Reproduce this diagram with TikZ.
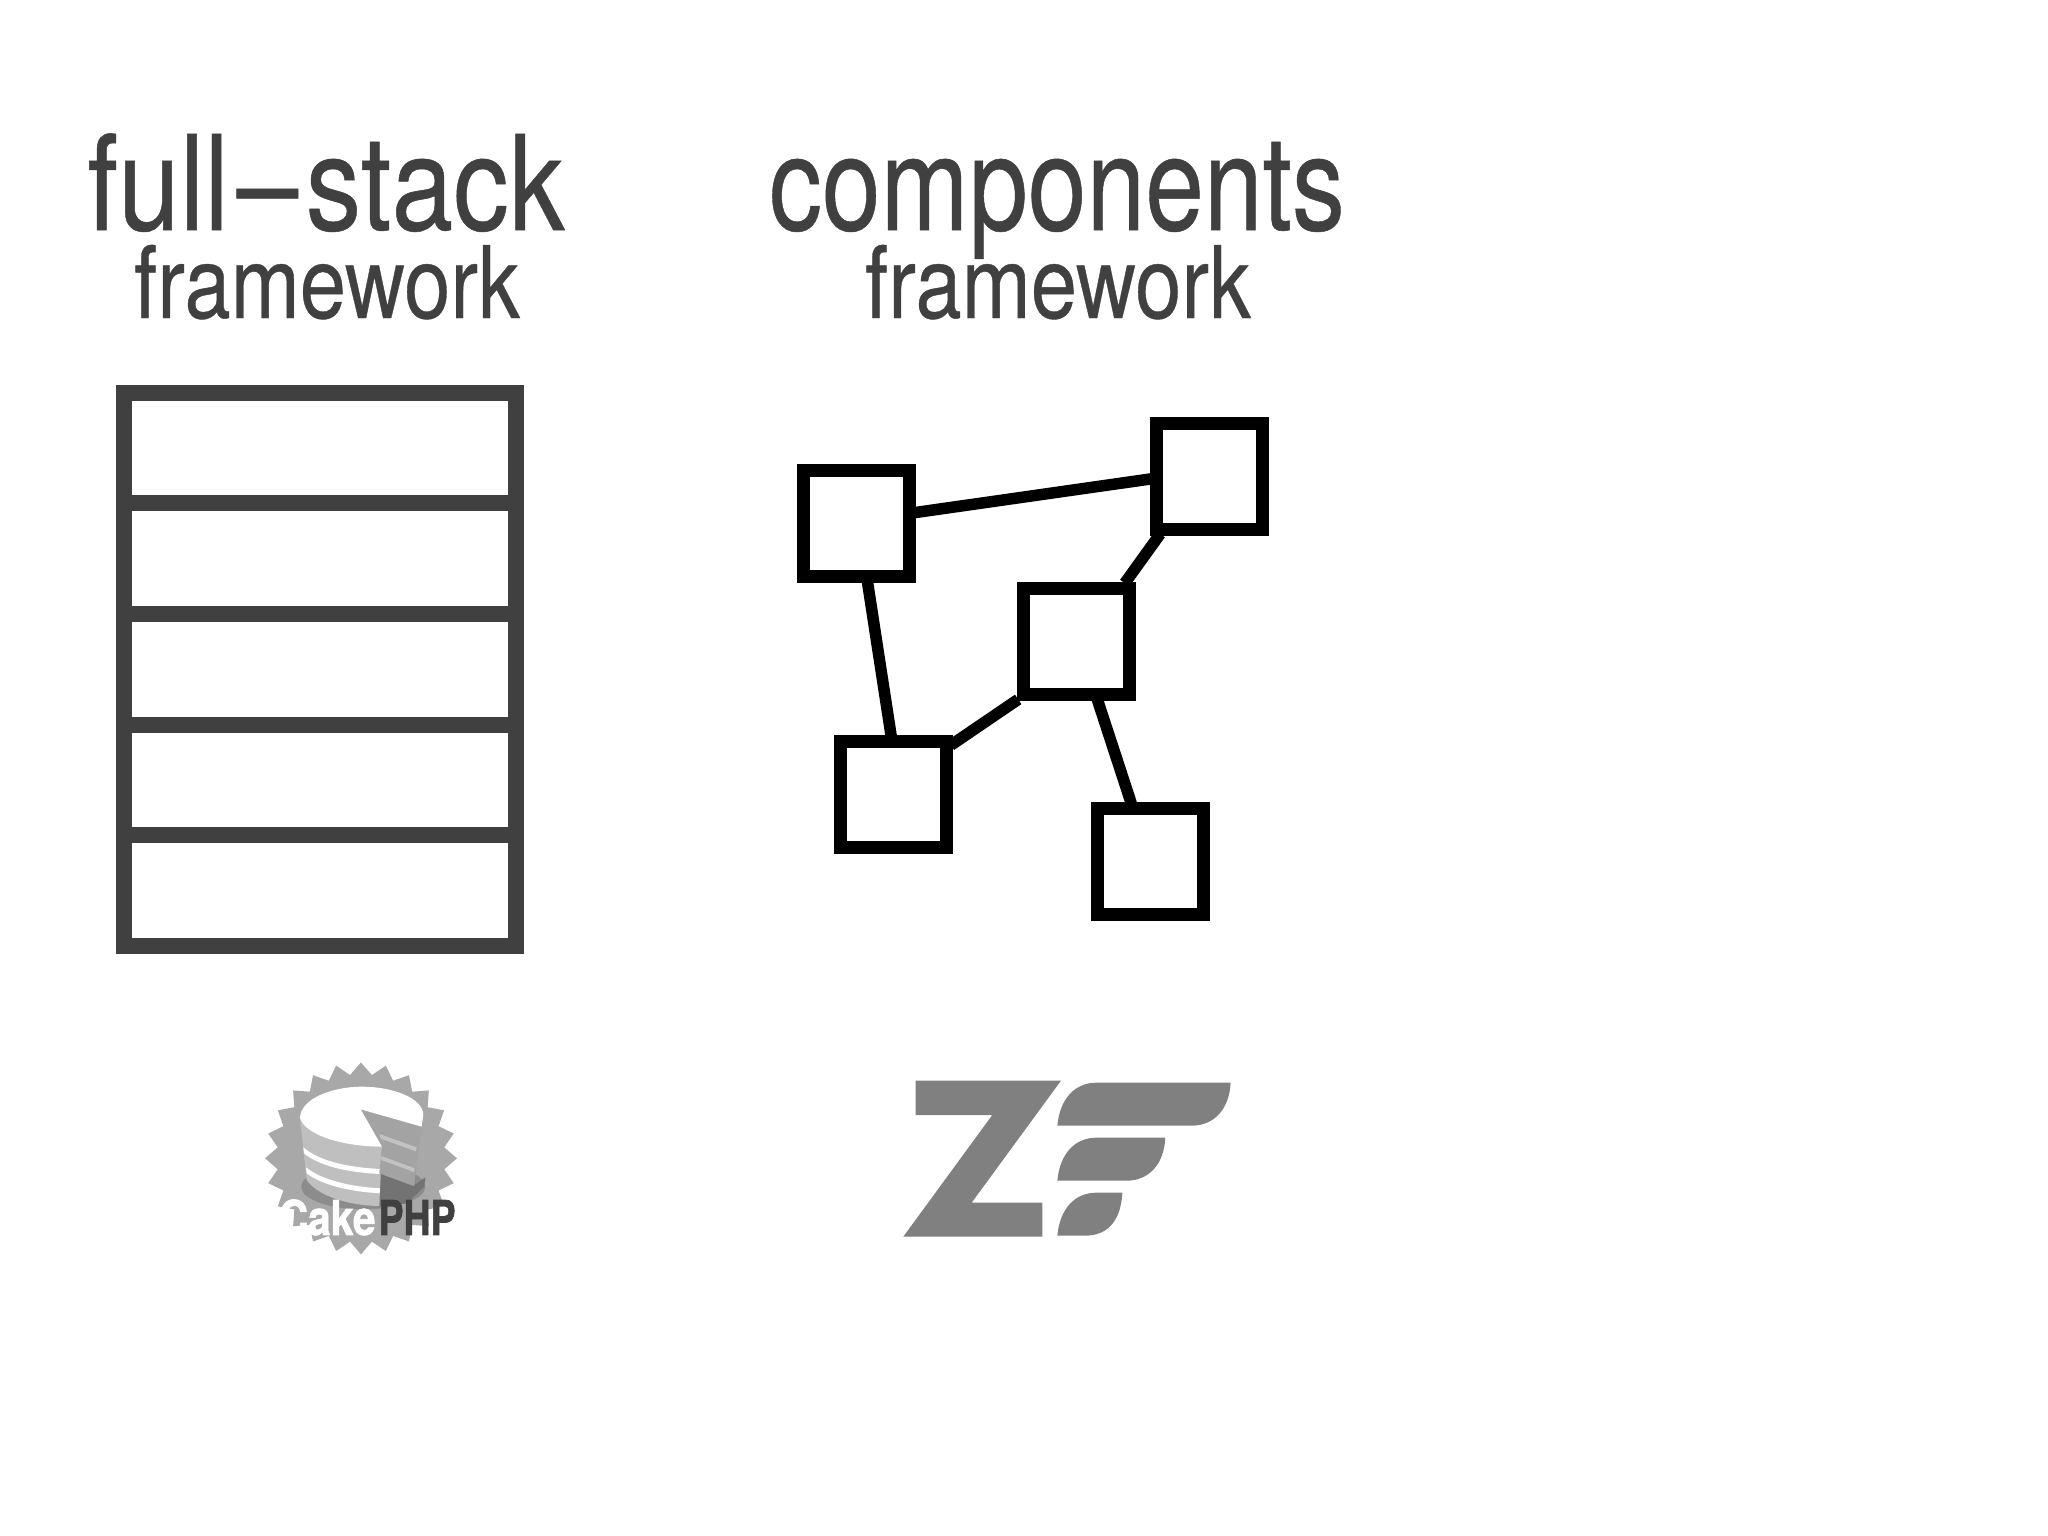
\documentclass[tikz,border=0pt]{standalone}
\usepackage{fontspec}
\setmainfont{TeX Gyre Heros}
\newfontfamily\heavyfont[FakeBold=0.4]{TeX Gyre Heros}
\newfontfamily\cakefont[BoldFeatures={FakeBold=1.5}]{TeX Gyre Heros}
\definecolor{inkgray}{HTML}{404040}
\definecolor{zfgray}{HTML}{808080}
\definecolor{stargray}{HTML}{A8A8A8}
\tikzset{every picture/.style={line width=0.75pt}}
\tikzset{
	bigtitle/.style={anchor=base,text=inkgray,inner sep=0pt,font=\heavyfont\fontsize{132}{132}\selectfont},
	smalltitle/.style={anchor=base,text=inkgray,inner sep=0pt,font=\heavyfont\fontsize{100}{100}\selectfont},
	stackcell/.style={draw=inkgray,line width=16pt,minimum width=392pt,minimum height=110.6pt,inner sep=0pt},
	compbox/.style={draw=black,line width=13pt,minimum size=106pt,inner sep=0pt},
	complink/.style={draw=black,line width=11.5pt,shorten >=-2pt,shorten <=-2pt},
	cakeword/.style={anchor=base west,inner sep=0pt,font=\cakefont\bfseries\fontsize{48}{48}\selectfont}
}
\begin{document}
\begin{tikzpicture}[x=1pt,y=-1pt]
	\fill[white] (0,0) rectangle (2048,1536);
	\node[bigtitle,xscale=.84] (fullstack) at (326,230) {full\kern9pt–\kern9pt stack}; %left title
	\node[smalltitle,xscale=.83] (fullframe) at (327,318) {framework};
	\node[bigtitle,xscale=.80] (components) at (1057,230) {components}; %right title
	\node[smalltitle,xscale=.83] (compframe) at (1058,318) {framework};
	\foreach \i in {0,...,4}
		\node[stackcell] (cell\i) at (320,{448+110.6*\i}) {}; %stack
	\node[compbox] (boxa) at (856,523) {};
	\node[compbox] (boxb) at (1209,476) {};
	\node[compbox] (boxc) at (1076,641) {};
	\node[compbox] (boxd) at (893,794) {};
	\node[compbox] (boxe) at (1150,861) {};
	\draw[complink] (boxa.10)--(boxb.183);
	\draw[complink] (boxa.281)--(boxd.92);
	\draw[complink] (boxc.50)--(boxb.230);
	\draw[complink] (boxc.225)--(boxd.40);
	\draw[complink] (boxc.290)--(boxe.108);
	\begin{scope}[shift={(240,1040)},x=0.3333pt,y=-0.3333pt] %cake logo
		\fill[stargray] (363,68) \foreach \a in {0,...,23} {
			-- ({363+252*sin(15*\a+7.5)},{355-252*cos(15*\a+7.5)})
			-- ({363+288*sin(15*\a+15)},{355-288*cos(15*\a+15)})} -- cycle;
		\fill[gray!90] (370,440) ellipse (186 and 68);
		\fill[black!55] (418,400)--(520,438)--(556,412)--(553,440)--(500,490)--(418,500)--cycle;
		\fill[black!25] (180,235)--(200,420) .. controls (235,470) and (330,497) .. (418,498)--(426,320)--cycle;
		\fill[white] (190,322) .. controls (240,365) and (330,383) .. (422,387)--(421,402) .. controls (330,398) and (240,380) .. (192,340)--cycle;
		\fill[white] (198,382) .. controls (245,420) and (330,440) .. (420,445)--(419,460) .. controls (330,455) and (245,435) .. (200,400)--cycle;
		\fill[black!36] (362,208)--(545,260)--(522,438)--(418,400)--(426,320)--cycle;
		\fill[black!24] (418,282)--(530,322)--(528,334)--(422,296)--cycle;
		\fill[black!24] (424,348)--(524,385)--(522,396)--(424,360)--cycle;
		\fill[white] (180,235) .. controls (180,175) and (280,140) .. (365,140) .. controls (460,140) and (550,175) .. (550,225)--(545,260)--(362,208)--(426,320) .. controls (320,320) and (200,290) .. (180,235)--cycle;
		\node[cakeword,text=white,xscale=.85] (cakeword) at (115,585) {Cake};
		\node[cakeword,text=inkgray,xscale=.78] (phpword) at (415,585) {PHP};
	\end{scope}
	\begin{scope}[shift={(880,1060)},x=0.3333pt,y=-0.3333pt] %zf logo
		\fill[zfgray] (107,62)--(543,62)--(275,428)--(487,428)--(487,530)--(70,530)--(337,165)--(107,165)--cycle;
		\fill[zfgray] (532,197) .. controls (540,115) and (585,68) .. (650,68)--(1052,68) .. controls (1048,150) and (1000,197) .. (935,197)--cycle;
		\fill[zfgray] (532,362) .. controls (540,280) and (585,233) .. (650,233)--(856,233) .. controls (852,315) and (805,362) .. (740,362)--cycle;
		\fill[zfgray] (532,527) .. controls (540,445) and (585,398) .. (650,398)--(727,398) .. controls (723,480) and (685,527) .. (615,527)--cycle;
	\end{scope}
\end{tikzpicture}
\end{document}
